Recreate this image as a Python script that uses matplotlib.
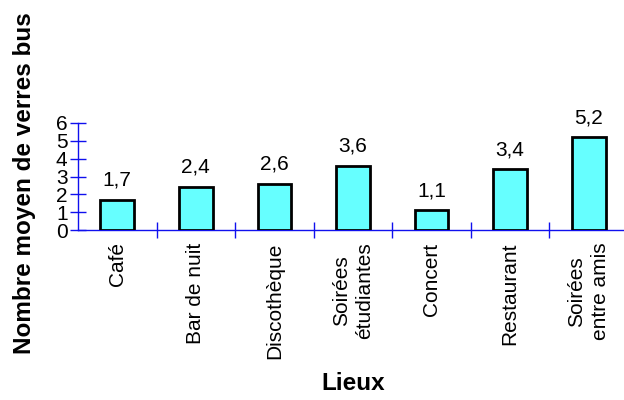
import matplotlib
matplotlib.use("Agg")
import matplotlib.pyplot as plt

plt.rcParams['font.family'] = ['Liberation Sans', 'DejaVu Sans']

lieux = ["Café", "Bar de nuit", "Discothèque", "Soirées\nétudiantes",
         "Concert", "Restaurant", "Soirées\nentre amis"]
verres = [1.7, 2.4, 2.6, 3.6, 1.1, 3.4, 5.2]
y_ticks = [0, 1, 2, 3, 4, 5, 6]

W, H = 624, 400
fig = plt.figure(figsize=(W / 100, H / 100), dpi=100)
ax = fig.add_axes([78 / W, (H - 230) / H, 550 / W, 107 / H])

blue = "#1010ee"
x = list(range(len(lieux)))
ax.bar(x, verres, width=0.43, color="#66ffff", edgecolor="black",
       linewidth=2, zorder=3)

for xi, v in zip(x, verres):
    ax.text(xi, v + 0.8, f"{v:.1f}".replace(".", ","), ha="center",
            va="baseline", fontsize=15)

ax.set_xlim(-0.5, len(lieux) - 0.5)
ax.set_ylim(0, 6)
ax.set_yticks(y_ticks)
ax.set_yticklabels([str(t) for t in y_ticks], fontsize=15)

ax.set_xticks([i + 0.5 for i in x[:-1]])
ax.set_xticklabels([])
ax.set_xticks(x, minor=True)
ax.set_xticklabels(lieux, minor=True, rotation=90, fontsize=15,
                   ha="center", va="top", multialignment="center",
                   linespacing=1.3)
ax.tick_params(axis="x", which="minor", length=0, pad=9)
ax.tick_params(axis="x", which="major", direction="inout", length=11,
               color=blue, width=1)
ax.tick_params(axis="y", direction="inout", length=12, color=blue,
               width=1, pad=1.5)

for side in ("top", "right"):
    ax.spines[side].set_visible(False)
for side in ("left", "bottom"):
    ax.spines[side].set_color(blue)
    ax.spines[side].set_linewidth(1)
ax.spines["bottom"].set_clip_on(False)

fig.text(25 / W, 1 - 183 / H, "Nombre moyen de verres bus", rotation=90,
         ha="center", va="center", fontsize=17.5, fontweight="bold")
fig.text(353 / W, 1 - 383 / H, "Lieux", ha="center", va="center",
         fontsize=17.5, fontweight="bold")

fig.savefig("out.png", dpi=100)
